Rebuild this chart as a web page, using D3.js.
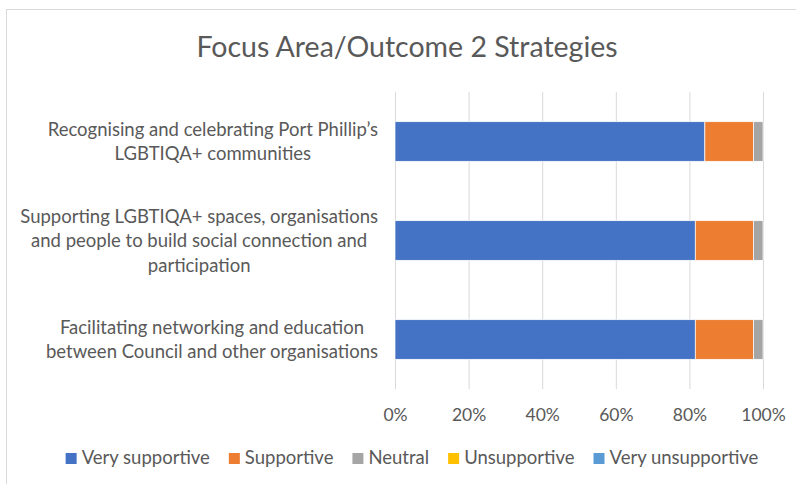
<!DOCTYPE html>
<html>
<head>
<meta charset="utf-8">
<script src="https://cdn.jsdelivr.net/npm/d3@7"></script>
<style>
  body { margin: 0; background: #fff; }
  svg { display: block; font-family: Lato, "Open Sans", sans-serif; }
</style>
</head>
<body>
<svg id="chart" width="796" height="484"></svg>
<script>
// chart data
var categories = [
  "Recognising and celebrating Port Phillip\u2019s LGBTIQA+ communities",
  "Supporting LGBTIQA+ spaces, organisations and people to build social connection and participation",
  "Facilitating networking and education between Council and other organisations"
];
var seriesNames = ["Very supportive", "Supportive", "Neutral", "Unsupportive", "Very unsupportive"];
var verySupportive = [0.842, 0.816, 0.816];
var supportive = [0.132, 0.158, 0.158];
var neutral = [0.026, 0.026, 0.026];
var unsupportive = [0, 0, 0];
var veryUnsupportive = [0, 0, 0];
var tickValues = [0, 0.2, 0.4, 0.6, 0.8, 1];
var colors = ["#4472C4", "#ED7D31", "#A5A5A5", "#FFC000", "#5B9BD5"];

var values = [verySupportive, supportive, neutral, unsupportive, veryUnsupportive];
var rows = categories.map(function (c, i) {
  var r = { category: c };
  seriesNames.forEach(function (s, j) { r[s] = values[j][i]; });
  return r;
});

var svg = d3.select("#chart");
var textColor = "#595959";
var fontSize = 18.5;

svg.append("rect")
  .attr("width", 796).attr("height", 484).attr("fill", "#fff");
svg.append("rect")
  .attr("x", 6.5).attr("y", 9.5).attr("width", 820).attr("height", 500)
  .attr("fill", "none").attr("stroke", "#d9d9d9");

svg.append("text")
  .attr("x", 407).attr("y", 57)
  .attr("text-anchor", "middle")
  .attr("font-size", 28.5)
  .attr("fill", textColor)
  .text("Focus Area/Outcome 2 Strategies");

var x = d3.scaleLinear().domain([0, 1]).range([395, 763]);
var y = d3.scaleBand().domain(categories).range([92, 389])
  .paddingInner(0.6).paddingOuter(0.3);

// gridlines + tick labels
var xAxis = svg.append("g")
  .attr("transform", "translate(0,389)")
  .call(d3.axisBottom(x).tickValues(tickValues)
    .tickFormat(d3.format(".0%"))
    .tickSize(-297).tickPadding(20));
xAxis.select(".domain").remove();
xAxis.selectAll("line").attr("stroke", "#d9d9d9");
xAxis.selectAll("text").attr("fill", textColor)
  .attr("font-size", 17.5).attr("font-family", "Lato, 'Open Sans', sans-serif");

var stack = d3.stack().keys(seriesNames)(rows);
svg.append("g").selectAll("g")
  .data(stack).enter().append("g")
  .attr("fill", function (d, i) { return colors[i]; })
  .selectAll("rect")
  .data(function (d) { return d; })
  .enter().append("rect")
  .attr("x", function (d) { return x(d[0]); })
  .attr("width", function (d) { return x(d[1]) - x(d[0]); })
  .attr("y", function (d) { return y(d.data.category); })
  .attr("height", y.bandwidth())
  .attr("stroke", "#fff").attr("stroke-width", 0.7);

// wrapped category labels
var maxWidth = 362;
var lineHeight = 24.5;
categories.forEach(function (c) {
  var g = svg.append("text")
    .attr("font-size", fontSize).attr("fill", textColor)
    .attr("text-anchor", "middle");
  var words = c.split(" ");
  var lines = [];
  var line = [];
  var probe = g.append("tspan");
  words.forEach(function (w) {
    line.push(w);
    probe.text(line.join(" "));
    if (probe.node().getComputedTextLength() > maxWidth && line.length > 1) {
      line.pop();
      lines.push(line.join(" "));
      line = [w];
    }
  });
  lines.push(line.join(" "));
  probe.remove();
  var widest = 0;
  lines.forEach(function (l) {
    probe = g.append("tspan").text(l);
    widest = Math.max(widest, probe.node().getComputedTextLength());
    probe.remove();
  });
  var cx = 378 - widest / 2;
  var cy = y(c) + y.bandwidth() / 2;
  var top = cy - (lines.length - 1) * lineHeight / 2 + 6.5;
  lines.forEach(function (l, i) {
    g.append("tspan").attr("x", cx).attr("y", top + i * lineHeight).text(l);
  });
});

// legend
var legend = svg.append("g");
var px = 0;
var gap = 19;
seriesNames.forEach(function (s, i) {
  var item = legend.append("g").attr("transform", "translate(" + px + ",0)");
  item.append("rect").attr("x", 0).attr("y", 453).attr("width", 11).attr("height", 11)
    .attr("fill", colors[i]);
  var t = item.append("text").attr("x", 16).attr("y", 464)
    .attr("font-size", fontSize).attr("fill", textColor).text(s);
  px += 16 + t.node().getComputedTextLength() + gap;
});
px -= gap;
legend.attr("transform", "translate(" + (412 - px / 2) + ",0)");
</script>
</body>
</html>
